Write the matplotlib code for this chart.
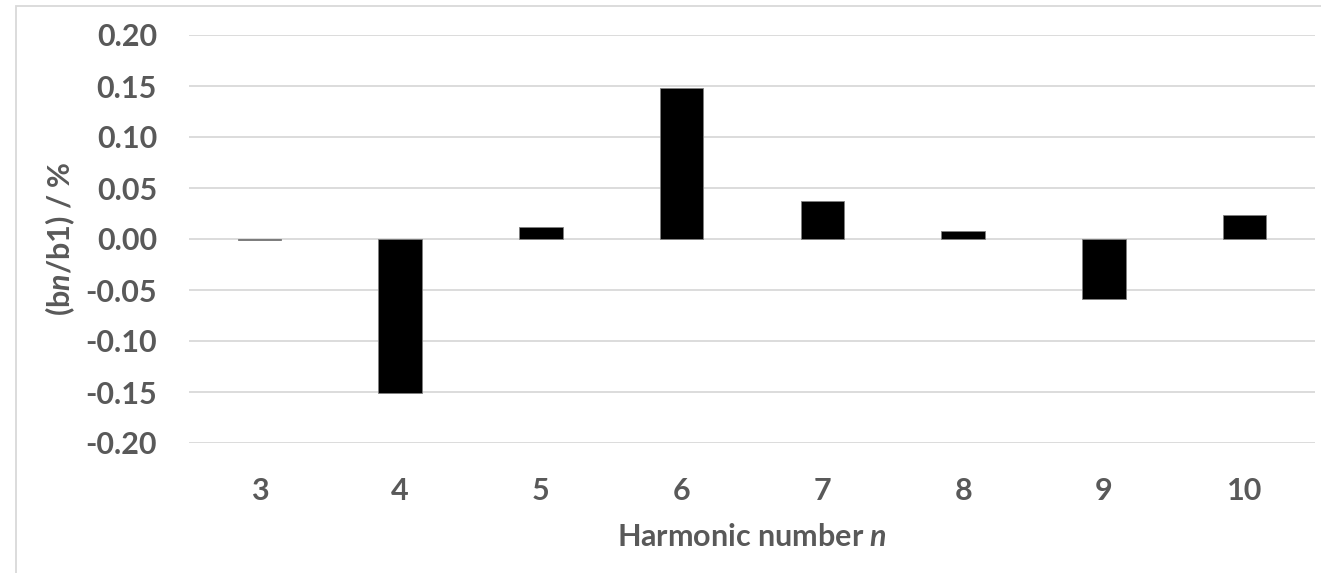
import numpy as np
import matplotlib.pyplot as plt
from matplotlib.patches import Rectangle

plt.rcParams['font.family'] = ['Lato', 'DejaVu Sans']
plt.rcParams['font.weight'] = 'bold'
plt.rcParams['axes.labelweight'] = 'bold'
plt.rcParams['mathtext.fontset'] = 'custom'
plt.rcParams['mathtext.rm'] = 'Lato:bold'
plt.rcParams['mathtext.it'] = 'Lato:bold:italic'

# harmonic coefficients relative to b1, in percent
harmonics = ['3', '4', '5', '6', '7', '8', '9', '10']
bn_b1 = [-0.001, -0.151, 0.012, 0.148, 0.037, 0.008, -0.059, 0.024]
yticks = [-0.20, -0.15, -0.10, -0.05, 0.00, 0.05, 0.10, 0.15, 0.20]

txt = '#595959'
grid = '#d9d9d9'

fig = plt.figure(figsize=(13.21, 5.73), dpi=100)
ax = fig.add_axes([189/1321, 1 - 443/573, (1315 - 189)/1321, (443 - 35)/573])

x = np.arange(len(harmonics))
ax.bar(x, bn_b1, width=0.31, color='black', edgecolor='#808080', linewidth=0.6, zorder=3)

ax.set_xlim(-0.5, len(harmonics) - 0.5)
ax.set_ylim(-0.20, 0.20)
ax.set_yticks(yticks)
ax.set_yticklabels(['%.2f' % v for v in yticks])
ax.set_xticks(x)
ax.set_xticklabels(harmonics)
ax.yaxis.grid(True, color=grid, linewidth=1.3, zorder=0)
ax.tick_params(length=0, labelsize=22, labelcolor=txt)
ax.tick_params(axis='x', pad=24.5)
ax.tick_params(axis='y', pad=23)
for s in ax.spines.values():
    s.set_visible(False)

ax.set_xlabel(r'Harmonic number $\mathit{n}$', fontsize=22, color=txt, labelpad=13)
ax.set_ylabel(r'(b$\mathit{n}$/b1) / %', fontsize=22, color=txt)
ax.yaxis.set_label_coords(-0.0995, 0.5)

# chart area outline
fig.patches.append(Rectangle((15.5/1321, -0.05), 1.1, 1.05 - 5.5/573,
                             transform=fig.transFigure, fill=False,
                             edgecolor=grid, linewidth=1.3))

fig.savefig('out.png', dpi=100)
